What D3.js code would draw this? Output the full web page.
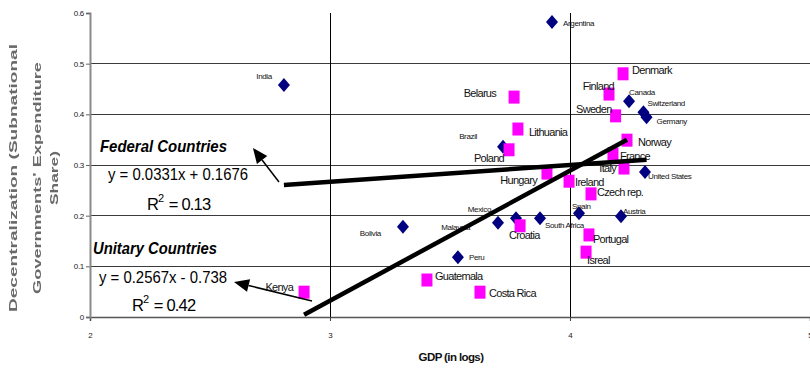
<!DOCTYPE html>
<html>
<head>
<meta charset="utf-8">
<script src="https://cdn.jsdelivr.net/npm/d3@7"></script>
<style>
  html, body { margin: 0; padding: 0; background: #fff; }
  svg { display: block; font-family: "Liberation Sans", Arial, sans-serif; }
</style>
</head>
<body>
<svg id="chart" width="810" height="372"></svg>
<script>
// Federal countries: log GDP and subnational expenditure share
const federalNames = ["India", "Argentina", "Canada", "Switzerland", "Germany", "Brazil",
  "United States", "Mexico", "Malaysia", "South Africa", "Spain", "Austria", "Bolivia", "Peru"];
const federalGdp = [2.808, 3.925, 4.246, 4.306, 4.319, 3.721, 4.3125, 3.775, 3.70, 3.875, 4.0375, 4.2125, 3.304, 3.533];
const federalShare = [0.458, 0.582, 0.426, 0.404, 0.394, 0.336, 0.286, 0.195, 0.186, 0.195, 0.205, 0.199, 0.178, 0.118];

// Unitary countries
const unitaryNames = ["Denmark", "Finland", "Sweden", "Belarus", "Lithuania", "Poland", "Norway",
  "France", "Italy", "Hungary", "Ireland", "Czech rep.", "Croatia", "Portugal", "Isreal",
  "Guatemala", "Costa Rica", "Kenya"];
const unitaryGdp = [4.221, 4.1625, 4.19, 3.767, 3.783, 3.746, 4.2375, 4.179, 4.225, 3.904, 3.996,
  4.0875, 3.792, 4.079, 4.067, 3.404, 3.625, 2.892];
const unitaryShare = [0.480, 0.440, 0.397, 0.434, 0.371, 0.330, 0.349, 0.322, 0.294, 0.284, 0.268,
  0.243, 0.180, 0.162, 0.128, 0.073, 0.049, 0.049];

// Linear trend lines (slope, intercept) and R²
const federalFit = { slope: 0.0331, intercept: 0.1676, r2: "0.13" };
const unitaryFit = { slope: 0.2567, intercept: -0.738, r2: "0.42" };

// Axis ticks
const xTicks = [2, 3, 4, 5];
const yTicks = [0, 0.1, 0.2, 0.3, 0.4, 0.5, 0.6];

// Label placement for each country: [anchor, dx, dy]
const labelPlace = {
  "India": ["end", -12, -8], "Argentina": ["start", 11, 1], "Canada": ["start", 0, -9],
  "Switzerland": ["start", 4, -9], "Germany": ["start", 10, 4], "Brazil": ["end", -26, -10],
  "United States": ["start", 3, 4], "Mexico": ["end", -25, -9], "Malaysia": ["end", -28, 5],
  "South Africa": ["start", 5, 7], "Spain": ["start", -7, -7], "Austria": ["start", 2, -5],
  "Bolivia": ["end", -22, 7], "Peru": ["start", 11, 0],
  "Denmark": ["start", 9, -4], "Finland": ["end", 5, -8], "Sweden": ["end", -4, -7],
  "Belarus": ["end", -18, -4], "Lithuania": ["start", 11, 3], "Poland": ["end", -5, 8],
  "Norway": ["start", 11, 2], "France": ["start", 7, 2], "Italy": ["end", -8, 0],
  "Hungary": ["end", -10, 7], "Ireland": ["start", 6, 1], "Czech rep.": ["start", 6, -2],
  "Croatia": ["start", -11, 9], "Portugal": ["start", 4, 4], "Isreal": ["start", 1, 8],
  "Guatemala": ["start", 8, -4], "Costa Rica": ["start", 9, 1], "Kenya": ["end", -11, -5]
};

const svg = d3.select("#chart");
const x = d3.scaleLinear().domain([2, 5]).range([90, 810]);
const y = d3.scaleLinear().domain([0, 0.6]).range([317, 13]);

// soft blur used on the vertical axis title
svg.append("defs").append("filter").attr("id", "soft")
  .append("feGaussianBlur").attr("stdDeviation", 0.75);

// horizontal gridlines
svg.append("g").selectAll("line").data(yTicks.filter(v => v > 0 && v < 0.6)).join("line")
  .attr("x1", x(2)).attr("x2", x(5))
  .attr("y1", d => y(d)).attr("y2", d => y(d))
  .attr("stroke", "#3a3a3a").attr("stroke-width", 1).attr("shape-rendering", "crispEdges");

// vertical gridlines
svg.append("g").selectAll("line").data(xTicks.filter(v => v > 2)).join("line")
  .attr("x1", d => x(d)).attr("x2", d => x(d))
  .attr("y1", y(0.6)).attr("y2", y(0))
  .attr("stroke", "#000").attr("stroke-width", 1).attr("shape-rendering", "crispEdges");

// x axis
const xAxis = svg.append("g").attr("transform", `translate(0,${y(0)})`)
  .call(d3.axisBottom(x).tickValues(xTicks).tickSize(4).tickPadding(11).tickFormat(d3.format("d")));
xAxis.select(".domain").attr("stroke", "#555").attr("stroke-width", 1.5);
xAxis.selectAll(".tick line").attr("stroke", "#444");
xAxis.selectAll("text").attr("font-size", 8).attr("fill", "#222")
  .attr("font-family", "Liberation Sans, Arial, sans-serif");

// y axis
const yAxis = svg.append("g").attr("transform", `translate(${x(2)},0)`)
  .call(d3.axisLeft(y).tickValues(yTicks).tickSize(4).tickPadding(2)
    .tickFormat(d => d === 0 ? "0" : d3.format(".1f")(d)));
yAxis.select(".domain").attr("stroke", "#8a8a8a").attr("stroke-width", 2);
yAxis.selectAll(".tick line").attr("stroke", "#666");
yAxis.selectAll("text").attr("font-size", 8).attr("fill", "#222").attr("letter-spacing", -0.3)
  .attr("font-family", "Liberation Sans, Arial, sans-serif");

// axis titles
svg.append("text").attr("x", 451).attr("y", 361).attr("text-anchor", "middle")
  .attr("font-size", 11.5).attr("font-weight", "bold").attr("letter-spacing", -0.6)
  .attr("fill", "#111").text("GDP (in logs)");

const yTitle = svg.append("g").attr("filter", "url(#soft)")
  .attr("transform", "translate(0,178) rotate(-90)");
[["Decentralization (Subnational", 17, 268], ["Governments' Expenditure", 41, 232], ["Share)", 58, 54]]
  .forEach(([t, px, len]) => {
    yTitle.append("text").attr("x", 0).attr("y", px).attr("text-anchor", "middle")
      .attr("font-size", 11.5).attr("font-weight", "bold").attr("fill", "#6a6a6a")
      .attr("textLength", len).attr("lengthAdjust", "spacingAndGlyphs").text(t);
  });

const federal = federalNames.map((n, i) => ({ name: n, gdp: federalGdp[i], share: federalShare[i] }));
const unitary = unitaryNames.map((n, i) => ({ name: n, gdp: unitaryGdp[i], share: unitaryShare[i] }));

// federal markers: navy diamonds
svg.append("g").selectAll("path").data(federal).join("path")
  .attr("d", "M0,-7L6,0L0,7L-6,0Z")
  .attr("transform", d => `translate(${x(d.gdp)},${y(d.share)})`)
  .attr("fill", "#000080");

// unitary markers: magenta squares
svg.append("g").selectAll("rect").data(unitary).join("rect")
  .attr("x", d => x(d.gdp) - 5.5).attr("y", d => y(d.share) - 6.5)
  .attr("width", 11).attr("height", 13).attr("fill", "#ff00ff");

// country labels
function drawLabels(data, size, spacing) {
  svg.append("g").selectAll("text").data(data).join("text")
    .attr("x", d => x(d.gdp) + labelPlace[d.name][1])
    .attr("y", d => y(d.share) + labelPlace[d.name][2])
    .attr("text-anchor", d => labelPlace[d.name][0])
    .attr("dominant-baseline", "central")
    .attr("font-size", size).attr("letter-spacing", spacing).attr("fill", "#111")
    .text(d => d.name);
}
drawLabels(federal, 8, -0.35);
drawLabels(unitary, 11, -0.7);

// trend lines over the observed range of each group
function trend(data, fit) {
  const ext = d3.extent(data, d => d.gdp);
  svg.append("line")
    .attr("x1", x(ext[0])).attr("y1", y(fit.slope * ext[0] + fit.intercept))
    .attr("x2", x(ext[1])).attr("y2", y(fit.slope * ext[1] + fit.intercept))
    .attr("stroke", "#000").attr("stroke-width", 4.5);
}
trend(federal, federalFit);
trend(unitary, unitaryFit);

// arrows pointing to the regression notes
function arrow(from, to) {
  const x1 = x(from[0]), y1 = y(from[1]), x2 = x(to[0]), y2 = y(to[1]);
  const a = Math.atan2(y2 - y1, x2 - x1), L = 15, W = 6.5;
  const bx = x2 - L * Math.cos(a), by = y2 - L * Math.sin(a);
  svg.append("line").attr("x1", x1).attr("y1", y1).attr("x2", bx).attr("y2", by)
    .attr("stroke", "#000").attr("stroke-width", 1.5);
  svg.append("path").attr("fill", "#000").attr("d",
    `M${x2},${y2}L${bx - W * Math.sin(a)},${by + W * Math.cos(a)}L${bx + W * Math.sin(a)},${by - W * Math.cos(a)}Z`);
}
arrow([2.7875, 0.2664], [2.679, 0.3335]);
arrow([2.925, 0.0316], [2.6, 0.0691]);

// regression notes
function note(t, px, py, len, opts = {}) {
  svg.append("text").attr("x", px).attr("y", py)
    .attr("font-size", opts.size || 16.5)
    .attr("font-weight", opts.bold ? "bold" : "normal")
    .attr("font-style", opts.italic ? "italic" : "normal")
    .attr("fill", "#000")
    .attr("textLength", len).attr("lengthAdjust", "spacingAndGlyphs").text(t);
}
function rsq(value, px, py) {
  const t = svg.append("text").attr("x", px).attr("y", py).attr("font-size", 16.5).attr("fill", "#000");
  t.append("tspan").text("R");
  t.append("tspan").attr("font-size", 11).attr("dy", -8).attr("dx", -1).text("2");
  t.append("tspan").attr("dy", 8).attr("dx", 1).attr("letter-spacing", -0.8).text(" = " + value);
}
note("Federal Countries", 100, 152, 127, { bold: true, italic: true });
note(`y = ${federalFit.slope}x + ${federalFit.intercept}`, 108, 180, 140);
rsq(federalFit.r2, 147, 210);
note("Unitary Countries", 93, 254, 124, { bold: true, italic: true });
note(`y = ${unitaryFit.slope}x - ${Math.abs(unitaryFit.intercept)}`, 99, 283, 128);
rsq(unitaryFit.r2, 132, 311);
</script>
</body>
</html>
